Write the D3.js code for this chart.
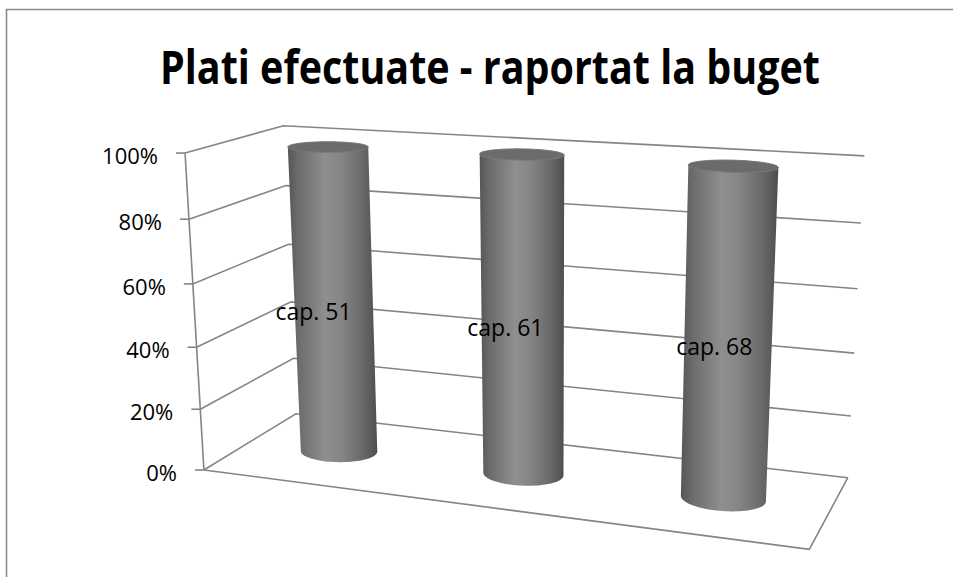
<!DOCTYPE html>
<html>
<head>
<meta charset="utf-8">
<script src="https://cdn.jsdelivr.net/npm/d3@7"></script>
<style>
  body { margin: 0; background: #fff; }
  svg { display: block; font-family: "Open Sans", "Noto Sans", sans-serif; }
</style>
</head>
<body>
<div id="chart"></div>
<script>
const title = "Plati efectuate - raportat la buget";
const categories = ["cap. 51", "cap. 61", "cap. 68"];
const values = [0.99, 1.0, 1.0];
const tickValues = [0, 0.2, 0.4, 0.6, 0.8, 1];

const width = 953, height = 577;

// where the corners of the 3d box land on screen: [X, Y, Z, px, py]
// X 0..1 left to right, Y 0..1 value, Z 0 front .. 1 back
const anchors = [
  [0, 1, 0, 185, 153], [0, 0.8, 0, 190, 219], [0, 0.6, 0, 193, 284],
  [0, 0.4, 0, 197, 347], [0, 0.2, 0, 200, 408], [0, 0, 0, 203, 471],
  [0, 1, 1, 282, 126], [0, 0, 1, 297, 414],
  [1, 1, 1, 865, 157], [1, 0.8, 1, 860, 223], [1, 0.6, 1, 858, 288],
  [1, 0.4, 1, 855, 352], [1, 0.2, 1, 851, 416], [1, 0, 1, 847, 478],
  [1, 0, 0, 809, 550]
];

// least squares fit of a 3x4 perspective camera to the anchors
function fitCamera(pts) {
  const rows = [], rhs = [];
  pts.forEach(([X, Y, Z, u, v]) => {
    rows.push([X, Y, Z, 1, 0, 0, 0, 0, -u * X, -u * Y, -u * Z]); rhs.push(u);
    rows.push([0, 0, 0, 0, X, Y, Z, 1, -v * X, -v * Y, -v * Z]); rhs.push(v);
  });
  const n = 11;
  const M = d3.range(n).map(i => d3.range(n + 1).map(j =>
    j < n ? d3.sum(rows, r => r[i] * r[j]) : d3.sum(rows, (r, k) => r[i] * rhs[k])));
  for (let c = 0; c < n; c++) {
    let p = c;
    for (let r = c + 1; r < n; r++) if (Math.abs(M[r][c]) > Math.abs(M[p][c])) p = r;
    [M[c], M[p]] = [M[p], M[c]];
    for (let r = 0; r < n; r++) {
      if (r === c) continue;
      const f = M[r][c] / M[c][c];
      for (let j = c; j <= n; j++) M[r][j] -= f * M[c][j];
    }
  }
  const m = M.map((r, i) => r[n] / r[i]);
  return (X, Y, Z) => {
    const w = m[8] * X + m[9] * Y + m[10] * Z + 1;
    return [(m[0] * X + m[1] * Y + m[2] * Z + m[3]) / w,
            (m[4] * X + m[5] * Y + m[6] * Z + m[7]) / w];
  };
}
const project = fitCamera(anchors);

const x = d3.scaleBand().domain(categories).range([0, 1]).paddingInner(0.6).paddingOuter(0.3);
const y = d3.scaleLinear().domain([0, 1]).range([0, 1]);
const zMid = 0.5, rZ = 0.17;
const rX = x.bandwidth() / 2;
const fmt = d3.format(".0%");

const svg = d3.select("#chart").append("svg")
  .attr("width", width)
  .attr("height", height);

const defs = svg.append("defs");

// chart area border (only top and left are inside the picture)
svg.append("path")
  .attr("d", `M6.5,${height}V9.5H${width}`)
  .attr("fill", "none")
  .attr("stroke", "#8a8a8a")
  .attr("stroke-width", 1.6);

// title, fitted to the width it has in the picture; stretched a bit upward
// since the original face is narrower and taller
const titleText = svg.append("text")
  .attr("x", 490)
  .attr("y", 0)
  .attr("text-anchor", "middle")
  .attr("font-weight", "bold")
  .attr("font-size", 40)
  .attr("fill", "#000")
  .attr("transform", "translate(0,84) scale(1,1.2)")
  .text(title);
const tw = titleText.node().getComputedTextLength();
titleText.attr("font-size", 40 * 660 / tw);

const line = d3.line();
const grid = svg.append("g")
  .attr("fill", "none")
  .attr("stroke", "#858585")
  .attr("stroke-width", 1.6);

// gridlines over side wall and back wall
grid.selectAll("path.gridline")
  .data(tickValues)
  .join("path")
  .attr("class", "gridline")
  .attr("d", t => line([project(0, y(t), 0), project(0, y(t), 1), project(1, y(t), 1)]));

// floor front and right edges
grid.append("path")
  .attr("d", line([project(0, 0, 0), project(1, 0, 0), project(1, 0, 1)]));

// value axis line + ticks
grid.append("path")
  .attr("d", line([project(0, 0, 0), project(0, 1, 0)]));
grid.selectAll("path.tick")
  .data(tickValues)
  .join("path")
  .attr("class", "tick")
  .attr("d", t => {
    const [px, py] = project(0, y(t), 0);
    return `M${px - 9},${py}H${px}`;
  });

svg.append("g")
  .selectAll("text")
  .data(tickValues)
  .join("text")
  .attr("x", t => project(0, y(t), 0)[0] - 27)
  .attr("y", t => project(0, y(t), 0)[1] + 2)
  .attr("text-anchor", "end")
  .attr("dominant-baseline", "central")
  .attr("font-size", 22)
  .attr("fill", "#000")
  .text(fmt);

// cylinders
const N = 90;
function ring(cx, yv) {
  return d3.range(N).map(i => {
    const a = 2 * Math.PI * i / N;
    return project(cx + rX * Math.cos(a), yv, zMid + rZ * Math.sin(a));
  });
}

const grad = defs.append("linearGradient")
  .attr("id", "cylShade")
  .attr("x1", 0).attr("x2", 1).attr("y1", 0).attr("y2", 0);
[[0, "#565656"], [0.12, "#6c6c6c"], [0.42, "#8f8f8f"], [0.6, "#858585"], [0.85, "#676767"], [1, "#4e4e4e"]]
  .forEach(([o, c]) => grad.append("stop").attr("offset", o).attr("stop-color", c));

const cyl = svg.append("g")
  .selectAll("g")
  .data(categories.map((c, i) => ({ cat: c, value: values[i] })))
  .join("g");

cyl.append("path")
  .attr("fill", "url(#cylShade)")
  .attr("d", d => {
    const cx = x(d.cat) + rX;
    const hull = d3.polygonHull(ring(cx, 0).concat(ring(cx, y(d.value))));
    return "M" + hull.join("L") + "Z";
  });

cyl.append("path")
  .attr("fill", "#6b6b6b")
  .attr("stroke", "#7a7a7a")
  .attr("stroke-width", 1)
  .attr("d", d => "M" + ring(x(d.cat) + rX, y(d.value)).join("L") + "Z");

// data labels
svg.append("g")
  .selectAll("text")
  .data(categories.map((c, i) => ({ cat: c, value: values[i] })))
  .join("text")
  .attr("x", d => project(x(d.cat) + rX, y(d.value) / 2, zMid - rZ)[0] - 5)
  .attr("y", d => project(x(d.cat) + rX, y(d.value) / 2, zMid - rZ)[1])
  .attr("text-anchor", "middle")
  .attr("dominant-baseline", "central")
  .attr("font-size", 23)
  .attr("fill", "#000")
  .text(d => d.cat);
</script>
</body>
</html>
